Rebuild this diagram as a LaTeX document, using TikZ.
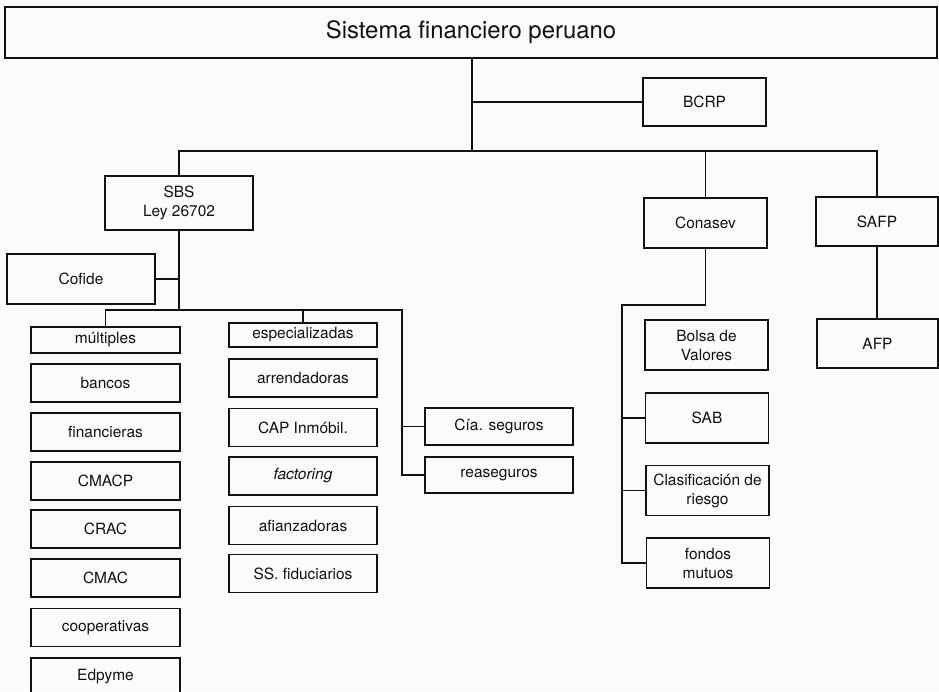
\documentclass[tikz,border=0pt]{standalone}
\usepackage{fontspec}
\setmainfont{TeX Gyre Heros}
\usepackage{tikz}
\usetikzlibrary{positioning}
\definecolor{Papel}{HTML}{FBFBFB}
\definecolor{Tinta}{HTML}{111111}

\begin{document}
\begin{tikzpicture}[
  x=0.025cm,y=-0.025cm,
  every node/.style={font=\fontsize{11}{13.5}\selectfont,text=Tinta},
  caja/.style={draw=Tinta,line width=1pt,inner sep=0pt,align=center},
  colizq/.style={caja,minimum width=3.72cm,minimum height=0.95cm},
  colmed/.style={caja,minimum width=3.70cm,minimum height=0.95cm},
  colder/.style={caja,minimum width=3.08cm,minimum height=1.25cm},
  rama/.style={draw=Tinta,line width=1pt}
]
  \useasboundingbox (0,0) rectangle (939,691);
  \clip (0,0) rectangle (939,691);
  \fill[Papel] (0,0) rectangle (939,691);

  \node[caja,minimum width=23.3cm,minimum height=1.275cm,
    font=\fontsize{17}{20}\selectfont] (titulo) at (471,32.5)
    {Sistema financiero peruano};

  \node[caja,minimum width=3.075cm,minimum height=1.2cm] (bcrp) at (704.5,102) {BCRP};
  \node[caja,minimum width=3.7cm,minimum height=1.35cm] (sbs) at (179,203) {SBS\\Ley 26702};
  \node[colder] (conasev) at (705.5,223) {Conasev};
  \node[caja,minimum width=3.05cm,minimum height=1.225cm] (safp) at (877,221.5) {SAFP};
  \node[caja,minimum width=3.03cm,minimum height=1.225cm] (afp) at (877.5,343.5) {AFP};
  \node[caja,minimum width=3.7cm,minimum height=1.25cm] (cofide) at (81,279) {Cofide};

  \node[colizq,minimum height=0.65cm] (multiples) at (105.5,340) {múltiples};
  \node[colizq] (bancos) at (105.5,383) {bancos};
  \node[colizq] (financieras) at (105.5,432) {financieras};
  \node[colizq] (cmacp) at (105.5,481) {CMACP};
  \node[colizq] (crac) at (105.5,529) {CRAC};
  \node[colizq] (cmac) at (105.5,578) {CMAC};
  \node[colizq] (cooperativas) at (105.5,627.5) {cooperativas};
  \node[colizq] (edpyme) at (105.5,677) {Edpyme};

  \node[colmed,minimum height=0.6cm] (especial) at (303,335) {especializadas};
  \node[colmed] (arrenda) at (303,378) {arrendadoras};
  \node[colmed] (cap) at (303,427.5) {CAP Inmóbil.};
  \node[colmed] (factoring) at (303,476) {\itshape factoring};
  \node[colmed] (afianza) at (303,525.5) {afianzadoras};
  \node[colmed] (fiducia) at (303,573.5) {SS. fiduciarios};

  \node[colmed,minimum height=0.925cm] (seguros) at (499,426.5) {Cía. seguros};
  \node[colmed,minimum height=0.9cm] (reaseguros) at (499,475) {reaseguros};

  \node[colder] (bolsa) at (706.5,345) {Bolsa de\\Valores};
  \node[colder] (sab) at (707,418) {SAB};
  \node[colder] (clasif) at (707.5,490.5) {Clasificación de\\riesgo};
  \node[colder] (fondos) at (708,563) {fondos\\mutuos};

  \coordinate (tronco) at (472,151);
  \coordinate (bussbs) at (179,310);
  \coordinate (busseg) at (402,310);
  \coordinate (buscon) at (622,305);

  \draw[rama] (titulo.south -| tronco) -- (tronco);
  \draw[rama] (tronco |- bcrp) -- (bcrp.west);
  \draw[rama] (sbs.north) |- (tronco) -| (safp.north);
  \draw[rama] (tronco -| conasev) -- (conasev.north);
  \draw[rama] (safp.south) -- (afp.north -| safp.south);

  \draw[rama] (sbs.south) -- (bussbs);
  \draw[rama] (cofide.east) -- (cofide.east -| bussbs);
  \draw[rama] (multiples.north) |- (busseg) |- (reaseguros.west);
  \draw[rama] (especial.north) -- (especial.north |- busseg);
  \draw[rama] (busseg |- seguros) -- (seguros.west);

  \draw[rama] (conasev.south) |- (buscon) |- (fondos.west);
  \draw[rama] (buscon |- sab) -- (sab.west);
  \draw[rama] (buscon |- clasif) -- (clasif.west);
\end{tikzpicture}
\end{document}
